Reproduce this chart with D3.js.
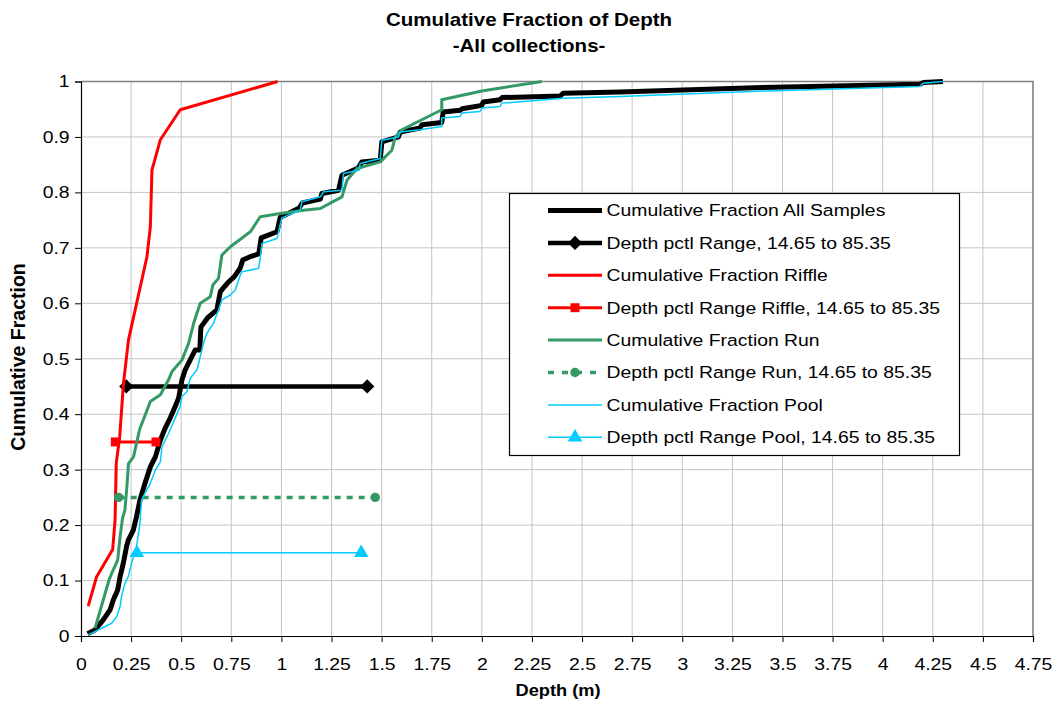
<!DOCTYPE html>
<html>
<head>
<meta charset="utf-8">
<script src="https://cdn.jsdelivr.net/npm/d3@7"></script>
<style>
  html, body { margin: 0; padding: 0; background: #fff; }
  svg { display: block; font-family: "Liberation Sans", Arial, sans-serif; }
</style>
</head>
<body>
<svg id="chart" width="1058" height="711"></svg>
<script>
// Cumulative fraction of depth, [depth (m), cumulative fraction]
const allSamples = [
  [0.033,0.004],[0.070,0.011],[0.111,0.029],[0.145,0.047],[0.161,0.065],[0.183,0.083],
  [0.195,0.107],[0.211,0.131],[0.227,0.161],[0.236,0.173],[0.261,0.191],[0.277,0.215],
  [0.294,0.245],[0.319,0.275],[0.346,0.305],[0.371,0.323],[0.396,0.353],[0.420,0.375],
  [0.445,0.393],[0.470,0.414],[0.487,0.429],[0.504,0.462],[0.520,0.480],[0.545,0.498],
  [0.570,0.516],[0.593,0.516],[0.598,0.557],[0.632,0.574],[0.678,0.588],[0.695,0.621],
  [0.732,0.637],[0.765,0.648],[0.795,0.664],[0.807,0.678],[0.844,0.684],[0.887,0.689],
  [0.899,0.718],[0.978,0.729],[0.994,0.755],[1.034,0.762],[1.089,0.772],[1.104,0.781],
  [1.194,0.788],[1.202,0.798],[1.285,0.804],[1.302,0.831],[1.383,0.844],[1.401,0.855],
  [1.493,0.858],[1.501,0.891],[1.584,0.900],[1.593,0.909],[1.692,0.916],[1.701,0.922],
  [1.800,0.926],[1.807,0.945],[1.892,0.948],[1.902,0.951],[2.000,0.957],[2.007,0.963],
  [2.091,0.967],[2.101,0.971],[2.391,0.974],[2.407,0.979],[2.690,0.981],[3.398,0.989],
  [4.186,0.995],[4.202,0.998],[4.301,1.000]
];
const riffle = [
  [0.036,0.054],[0.078,0.107],[0.158,0.156],[0.170,0.209],[0.174,0.281],[0.176,0.312],
  [0.193,0.359],[0.212,0.456],[0.237,0.534],[0.329,0.684],[0.346,0.738],[0.354,0.840],
  [0.396,0.895],[0.495,0.949],[0.981,1.000]
];
const run = [
  [0.070,0.014],[0.140,0.101],[0.153,0.113],[0.183,0.137],[0.195,0.179],[0.207,0.212],
  [0.219,0.227],[0.229,0.269],[0.237,0.311],[0.262,0.323],[0.292,0.372],[0.346,0.423],
  [0.396,0.435],[0.437,0.462],[0.454,0.477],[0.504,0.498],[0.537,0.528],[0.562,0.564],
  [0.595,0.600],[0.645,0.612],[0.658,0.633],[0.686,0.645],[0.703,0.687],[0.745,0.702],
  [0.845,0.729],[0.894,0.756],[0.994,0.762],[1.110,0.768],[1.194,0.771],[1.302,0.792],
  [1.327,0.822],[1.377,0.843],[1.493,0.855],[1.551,0.876],[1.568,0.900],[1.601,0.913],
  [1.800,0.949],[1.800,0.967],[2.000,0.983],[2.299,1.000]
];
const pool = [
  [0.036,0.002],[0.103,0.014],[0.153,0.023],[0.178,0.035],[0.195,0.053],[0.202,0.071],
  [0.219,0.095],[0.236,0.107],[0.252,0.131],[0.277,0.161],[0.294,0.203],[0.302,0.245],
  [0.327,0.263],[0.341,0.271],[0.371,0.299],[0.396,0.314],[0.404,0.341],[0.429,0.359],
  [0.445,0.372],[0.470,0.393],[0.495,0.414],[0.504,0.432],[0.529,0.441],[0.545,0.465],
  [0.579,0.480],[0.595,0.504],[0.611,0.528],[0.628,0.546],[0.661,0.564],[0.686,0.588],
  [0.703,0.606],[0.745,0.615],[0.770,0.624],[0.795,0.651],[0.803,0.657],[0.886,0.663],
  [0.894,0.681],[0.903,0.708],[0.978,0.717],[1.002,0.754],[1.094,0.768],[1.102,0.783],
  [1.194,0.792],[1.210,0.801],[1.302,0.804],[1.310,0.834],[1.385,0.840],[1.393,0.852],
  [1.493,0.861],[1.501,0.894],[1.584,0.900],[1.593,0.909],[1.692,0.913],[1.800,0.919],
  [1.800,0.934],[1.892,0.937],[1.900,0.943],[1.991,0.946],[2.000,0.952],[2.091,0.955],
  [2.100,0.961],[2.407,0.970],[2.690,0.973],[3.421,0.983],[4.186,0.991],[4.201,0.997],
  [4.301,1.000]
];
// 14.65th to 85.35th percentile depth ranges, drawn at a fixed height
const rangeAll    = [[0.226,0.45],[1.428,0.45]];
const rangeRiffle = [[0.171,0.35],[0.374,0.35]];
const rangeRun    = [[0.188,0.25],[1.468,0.25]];
const rangePool   = [[0.279,0.15],[1.398,0.15]];

const xTicks = [0,0.25,0.5,0.75,1,1.25,1.5,1.75,2,2.25,2.5,2.75,3,3.25,3.5,3.75,4,4.25,4.5,4.75];
const yTicks = [0,0.1,0.2,0.3,0.4,0.5,0.6,0.7,0.8,0.9,1];

const legendLabels = [
  "Cumulative Fraction All Samples",
  "Depth pctl Range, 14.65 to 85.35",
  "Cumulative Fraction Riffle",
  "Depth pctl Range Riffle, 14.65 to 85.35",
  "Cumulative Fraction Run",
  "Depth pctl Range Run, 14.65 to 85.35",
  "Cumulative Fraction Pool",
  "Depth pctl Range Pool, 14.65 to 85.35"
];

const svg = d3.select("#chart");
const plot = { left: 81, top: 81.5, right: 1033, bottom: 636 };
const stretch = "scale(1.14,1)";   // text is set slightly wide

const x = d3.scaleLinear().domain([0, 4.75]).range([plot.left, plot.right]);
const y = d3.scaleLinear().domain([0, 1]).range([plot.bottom, plot.top]);

// gridlines
const grid = svg.append("g").attr("stroke", "#c4c4c4").attr("stroke-width", 1);
grid.selectAll("line.v").data(xTicks.slice(1)).join("line")
  .attr("x1", d => x(d)).attr("x2", d => x(d))
  .attr("y1", plot.top).attr("y2", plot.bottom);
grid.selectAll("line.h").data(yTicks.slice(1)).join("line")
  .attr("x1", plot.left).attr("x2", plot.right)
  .attr("y1", d => y(d)).attr("y2", d => y(d));

// plot frame (top and right)
svg.append("path")
  .attr("d", `M${plot.left},${plot.top}H${plot.right}V${plot.bottom}`)
  .attr("fill", "none").attr("stroke", "#808080").attr("stroke-width", 1.5);

// axes
const xAxis = d3.axisBottom(x).tickValues(xTicks).tickSize(6).tickPadding(16)
  .tickFormat(d => d3.format("")(d));
const yAxis = d3.axisLeft(y).tickValues(yTicks).tickSize(6).tickPadding(4)
  .tickFormat(d => d3.format("")(d));

const gx = svg.append("g").attr("transform", `translate(0,${plot.bottom})`).call(xAxis);
const gy = svg.append("g").attr("transform", `translate(${plot.left},0)`).call(yAxis);
[gx, gy].forEach(g => {
  g.select(".domain").attr("stroke", "#000").attr("stroke-width", 1.2);
  g.selectAll(".tick line").attr("stroke", "#000");
  g.selectAll(".tick text").attr("fill", "#000").attr("transform", stretch)
    .style("font-size", "17px").style("font-family", "\"Liberation Sans\", Arial, sans-serif");
});

const line = d3.line().x(d => x(d[0])).y(d => y(d[1]));

// series
const series = [
  { data: allSamples, color: "#000000", width: 5 },
  { data: rangeAll, color: "#000000", width: 4.5, marker: "diamond" },
  { data: riffle, color: "#ff0000", width: 3 },
  { data: rangeRiffle, color: "#ff0000", width: 3, marker: "square" },
  { data: run, color: "#339966", width: 3 },
  { data: rangeRun, color: "#339966", width: 3.5, marker: "circle", dash: "6,6" },
  { data: pool, color: "#00ccff", width: 1.5 },
  { data: rangePool, color: "#00ccff", width: 1.5, marker: "triangle" }
];

const markerSymbols = {
  diamond: d3.symbol().type(d3.symbolDiamond2).size(130),
  square: d3.symbol().type(d3.symbolSquare).size(80),
  circle: d3.symbol().type(d3.symbolCircle).size(70),
  triangle: d3.symbol().type(d3.symbolTriangle).size(90)
};

const gSeries = svg.append("g");
series.forEach(s => {
  gSeries.append("path").datum(s.data)
    .attr("d", line).attr("fill", "none")
    .attr("stroke", s.color).attr("stroke-width", s.width)
    .attr("stroke-linejoin", "round")
    .attr("stroke-dasharray", s.dash || null);
  if (s.marker) {
    gSeries.selectAll(null).data(s.data).join("path")
      .attr("transform", d => `translate(${x(d[0])},${y(d[1])})`)
      .attr("d", markerSymbols[s.marker]())
      .attr("fill", s.color);
  }
});

// legend
const legend = svg.append("g");
legend.append("rect")
  .attr("x", 509.5).attr("y", 193.5).attr("width", 450).attr("height", 262)
  .attr("fill", "#fff").attr("stroke", "#000").attr("stroke-width", 1.2);
series.forEach((s, i) => {
  const ly = 210.5 + i * 32.4;
  const row = legend.append("g");
  row.append("line").attr("x1", 548).attr("x2", 602).attr("y1", ly).attr("y2", ly)
    .attr("stroke", s.color).attr("stroke-width", s.width)
    .attr("stroke-dasharray", s.dash ? "6,8" : null);
  if (s.marker) {
    row.append("path").attr("transform", `translate(575,${ly})`)
      .attr("d", markerSymbols[s.marker]()).attr("fill", s.color);
  }
  row.append("g").attr("transform", `translate(606.5,${ly}) ${stretch}`)
    .append("text").attr("dy", "0.35em")
    .style("font-size", "17px").attr("fill", "#000").text(legendLabels[i]);
});

// titles
function wideText(tx, ty, str, size, rotate) {
  const g = svg.append("g")
    .attr("transform", `translate(${tx},${ty})` + (rotate ? " rotate(-90)" : ` ${stretch}`));
  g.append("text").attr("text-anchor", "middle")
    .style("font-size", size + "px").style("font-weight", "bold").text(str);
}
wideText(529, 26, "Cumulative Fraction of Depth", 18);
wideText(529, 52, "-All collections-", 18);
wideText(558, 696, "Depth (m)", 16);
wideText(25, 357, "Cumulative Fraction", 19.5, true);
</script>
</body>
</html>
